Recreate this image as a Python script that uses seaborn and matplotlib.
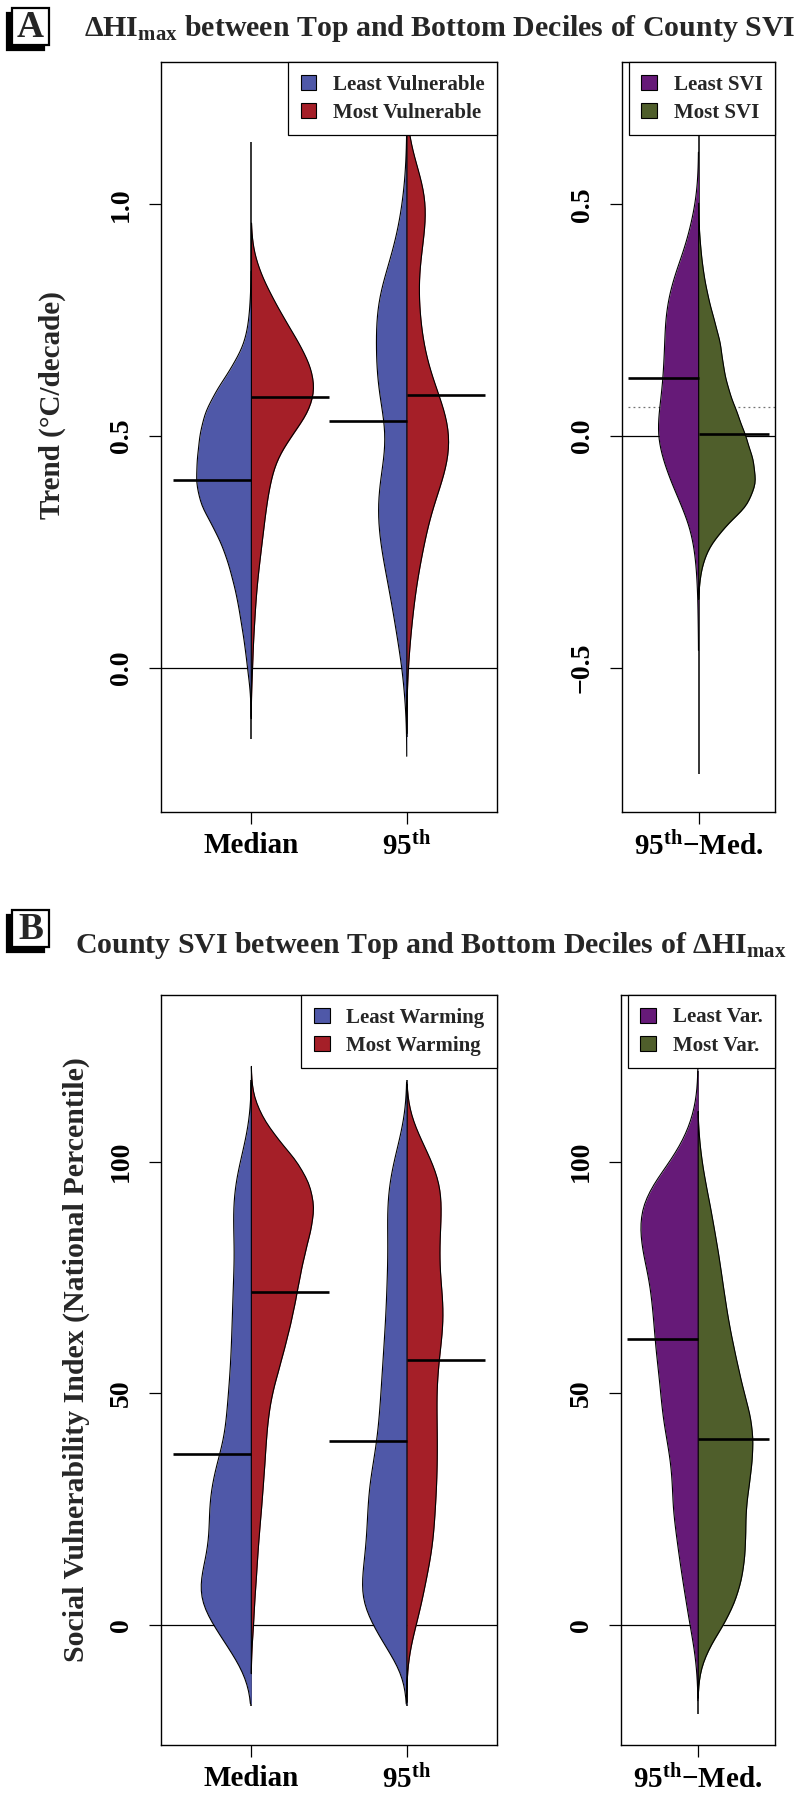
import numpy as np
import pandas as pd
import matplotlib
matplotlib.use("Agg")
import matplotlib.pyplot as plt
from matplotlib.patches import Patch, Rectangle
import seaborn as sns

# ---- panel A: trend of HImax (degC/decade), density profiles
trend_grid = np.round(np.arange(-0.10, 1.151, 0.05), 2)
med_least_vul = [0, 2, 10, 17, 27, 37, 52, 70, 98, 135, 148, 144, 138, 125, 92, 50, 17, 6, 2, 0, 0, 0, 0, 0, 0, 0]
med_most_vul = [0, 1, 4, 6, 10, 14, 20, 28, 36, 44, 55, 72, 115, 165, 185, 172, 138, 97, 60, 27, 6, 0, 0, 0, 0, 0]
p95_least_vul = [1, 7, 12, 24, 34, 45, 58, 71, 81, 84, 78, 63, 54, 67, 82, 86, 87, 87, 82, 60, 38, 23, 12, 5, 1, 0]
p95_most_vul = [0, 1, 4, 9, 16, 23, 33, 47, 60, 76, 106, 126, 133, 118, 88, 63, 48, 40, 35, 34, 45, 55, 63, 48, 20, 3]
trend_medians = [[0.406, 0.584], [0.533, 0.589]]
trend_min = [-0.154, -0.150]
trend_max = [1.134, 1.220]

diff_grid = np.round(np.arange(-0.40, 0.601, 0.05), 2)
diff_least_svi = [1, 2, 5, 11, 24, 52, 84, 110, 127, 122, 112, 107, 104, 102, 92, 72, 45, 25, 10, 2, 0]
diff_most_svi = [0, 0, 5, 22, 70, 145, 170, 160, 138, 113, 87, 72, 65, 46, 28, 15, 7, 2, 0, 0, 0]
diff_medians = [[0.125, 0.004]]
diff_min = [-0.730]
diff_max = [0.666]
diff_ref = 0.0635

# ---- panel B: county SVI (national percentile)
svi_grid = np.arange(-15, 116, 5)
med_least_warm = [0, 20, 62, 105, 142, 140, 120, 113, 115, 108, 93, 73, 67, 62, 57, 54, 52, 50, 48, 45, 48, 49, 44, 30, 14, 3, 0]
med_most_warm = [0, 0, 2, 7, 10, 15, 19, 24, 30, 35, 40, 44, 50, 61, 80, 98, 115, 129, 141, 155, 173, 185, 172, 135, 75, 28, 3]
p95_least_warm = [0, 12, 55, 92, 122, 120, 111, 106, 104, 100, 89, 79, 73, 69, 65, 61, 57, 54, 52, 50, 51, 52, 47, 35, 18, 5, 0]
p95_most_warm = [0, 1, 10, 28, 45, 58, 72, 80, 84, 88, 90, 90, 89, 88, 92, 100, 108, 107, 99, 96, 99, 103, 100, 75, 40, 10, 0]
svi_medians = [[36.9, 71.9], [39.6, 57.2]]
svi_min = [-17.6, -17.6]
svi_max = [117.6, 117.6]

var_least = [0, 3, 11, 24, 35, 46, 56, 65, 74, 75, 80, 92, 104, 110, 117, 125, 130, 136, 145, 162, 172, 168, 135, 82, 40, 14, 2]
var_most = [0, 5, 32, 78, 112, 132, 141, 143, 143, 153, 162, 166, 158, 138, 122, 107, 93, 82, 72, 62, 50, 38, 24, 12, 4, 0, 0]
var_medians = [[61.7, 40.0]]
var_min = [-19.3]
var_max = [119.6]

stats = ["Median", "95th"]
stat_labels = ["Median", "95$^{\\mathbf{th}}$"]
diff_stat = ["95th-Med."]
diff_labels = ["95$^{\\mathbf{th}}$\u2212Med."]

blue, red = "#4F58A8", "#A51F28"
purple, green = "#661A78", "#4F5E2B"

sns.set_theme(style="ticks", rc={"axes.edgecolor": "black", "xtick.color": "black",
                                 "ytick.color": "black", "axes.linewidth": 1.0})
plt.rcParams["font.family"] = ["Liberation Serif", "DejaVu Serif"]
plt.rcParams["font.weight"] = "bold"
plt.rcParams["mathtext.fontset"] = "custom"
plt.rcParams["mathtext.rm"] = "Liberation Serif:bold"
plt.rcParams["mathtext.bf"] = "Liberation Serif:bold"
plt.rcParams["mathtext.it"] = "Liberation Serif:bold"


def long_table(grid, parts):
    rows = []
    for stat, group, counts in parts:
        vals = np.repeat(grid, counts)
        rows.append(pd.DataFrame({"value": vals, "stat": stat, "group": group}))
    return pd.concat(rows, ignore_index=True)


W, H = 798, 1800
fig = plt.figure(figsize=(W / 100, H / 100), dpi=100)


def panel(rect, df, order, groups, colors, medians, lo, hi, xlim, ylim,
          yticks, xlabels, bw, width, extra=None):
    ax = fig.add_axes(rect)
    ax.axhline(0, color="black", lw=0.9, zorder=0)
    if extra is not None:
        ax.axhline(extra, xmin=0.04, color="0.45", lw=0.9, ls=(0, (1.5, 2.5)), zorder=0)
    ax.vlines(range(len(order)), lo, hi, color="black", lw=1.1, zorder=0.5)
    n0 = len(ax.collections)
    sns.violinplot(data=df, x="stat", y="value", hue="group", order=order,
                   hue_order=groups, palette=colors, split=True, inner=None,
                   saturation=1, linecolor="black", linewidth=0.8,
                   density_norm="area", common_norm=True, bw_method=bw,
                   cut=1.8, width=width, legend=False, ax=ax)
    # outline only the outer curve of each half (no black line down the middle)
    for coll in ax.collections[n0:]:
        coll.set_linewidth(0)
        for path in coll.get_paths():
            v = path.vertices
            outer = v[~np.isclose(v[:, 0], np.round(v[:, 0]), atol=1e-9)]
            if len(outer):
                ax.plot(outer[:, 0], outer[:, 1], color="black", lw=0.8,
                        zorder=coll.get_zorder() + 0.1)
    for i, (m_left, m_right) in enumerate(medians):
        ax.hlines(m_left, i - 0.5, i, color="black", lw=1.9, zorder=5)
        ax.hlines(m_right, i, i + 0.5, color="black", lw=1.9, zorder=5)
    ax.set_xlim(*xlim)
    ax.set_ylim(*ylim)
    ax.set_xticks(range(len(order)))
    ax.set_xticklabels(xlabels, fontsize=21, fontweight="bold")
    ax.set_yticks(yticks)
    ax.set_yticklabels([(f"{v:.1f}" if isinstance(v, float) else f"{v}").replace("-", "\u2212")
                        for v in yticks], fontsize=20, fontweight="bold",
                       rotation=90, va="center")
    ax.tick_params(axis="both", direction="out", length=8.5, width=0.9)
    ax.tick_params(axis="y", pad=11)
    ax.tick_params(axis="x", pad=6)
    ax.set_xlabel("")
    ax.set_ylabel("")
    for s in ax.spines.values():
        s.set_visible(True)
        s.set_linewidth(1.0)
        s.set_color("black")
    handles = [Patch(facecolor=c, edgecolor="black", lw=0.8, label=g)
               for c, g in zip(colors, groups)]
    ax.legend(handles=handles, loc="upper right", borderaxespad=0, frameon=True,
              fancybox=False, edgecolor="black", framealpha=1, fontsize=15,
              handlelength=0.75, handleheight=0.75, handletextpad=0.8,
              labelspacing=0.4, borderpad=0.6)
    ax.get_legend().get_frame().set_linewidth(0.9)
    ax.get_legend().set_zorder(10)
    return ax


groups_a = ["Least Vulnerable", "Most Vulnerable"]
df_a = long_table(trend_grid, [("Median", groups_a[0], med_least_vul),
                               ("Median", groups_a[1], med_most_vul),
                               ("95th", groups_a[0], p95_least_vul),
                               ("95th", groups_a[1], p95_most_vul)])
panel([161 / W, 1 - 812 / H, 336 / W, 750 / H], df_a, stats, groups_a, [blue, red],
      trend_medians, trend_min, trend_max, (-0.58, 1.58), (-0.311, 1.307),
      [0.0, 0.5, 1.0], stat_labels, 0.2, 0.8)

groups_a2 = ["Least SVI", "Most SVI"]
df_a2 = long_table(diff_grid, [(diff_stat[0], groups_a2[0], diff_least_svi),
                               (diff_stat[0], groups_a2[1], diff_most_svi)])
panel([622 / W, 1 - 812 / H, 153 / W, 750 / H], df_a2, diff_stat, groups_a2, [purple, green],
      diff_medians, diff_min, diff_max, (-0.54, 0.54), (-0.811, 0.807),
      [-0.5, 0.0, 0.5], diff_labels, 0.2, 0.8, extra=diff_ref)

groups_b = ["Least Warming", "Most Warming"]
df_b = long_table(svi_grid, [("Median", groups_b[0], med_least_warm),
                             ("Median", groups_b[1], med_most_warm),
                             ("95th", groups_b[0], p95_least_warm),
                             ("95th", groups_b[1], p95_most_warm)])
panel([161 / W, 1 - 1745 / H, 336 / W, 750 / H], df_b, stats, groups_b, [blue, red],
      svi_medians, svi_min, svi_max, (-0.58, 1.58), (-26, 136),
      [0, 50, 100], stat_labels, 0.13, 0.8)

groups_b2 = ["Least Var.", "Most Var."]
df_b2 = long_table(svi_grid, [(diff_stat[0], groups_b2[0], var_least),
                              (diff_stat[0], groups_b2[1], var_most)])
panel([621 / W, 1 - 1745 / H, 154 / W, 750 / H], df_b2, diff_stat, groups_b2, [purple, green],
      var_medians, var_min, var_max, (-0.54, 0.54), (-26, 136),
      [0, 50, 100], diff_labels, 0.13, 0.8)

# axis titles
fig.text(52 / W, 1 - 405 / H, "Trend (\u00b0C/decade)", rotation=90, ha="center",
         va="center", fontsize=21, fontweight="bold")
fig.text(76 / W, 1 - 1360 / H, "Social Vulnerability Index (National Percentile)",
         rotation=90, ha="center", va="center", fontsize=21.5, fontweight="bold")

# panel titles
fig.text(84 / W, 1 - 36 / H, "\u0394HI$_{\\mathrm{max}}$ between Top and Bottom Deciles of County SVI",
         ha="left", va="baseline", fontsize=21.5, fontweight="bold")
fig.text(75 / W, 1 - 953 / H, "County SVI between Top and Bottom Deciles of \u0394HI$_{\\mathrm{max}}$",
         ha="left", va="baseline", fontsize=21.5, fontweight="bold")


def letter_box(x0, y0, letter, size=37, shift=5):
    # shadow first, then the white box, letter on top
    for dx, dy, fc in [(-shift, shift, "black"), (0, 0, "white")]:
        fig.add_artist(Rectangle(((x0 + dx) / W, 1 - (y0 + dy + size) / H), size / W, size / H,
                                 transform=fig.transFigure, fc=fc, ec="black", lw=1.6))
    fig.text((x0 + size / 2) / W, 1 - (y0 + size / 2 + 1) / H, letter, ha="center",
             va="center", fontsize=27, fontweight="bold")


letter_box(12, 8, "A")
letter_box(12, 910, "B")

fig.savefig("out.png", dpi=100)
